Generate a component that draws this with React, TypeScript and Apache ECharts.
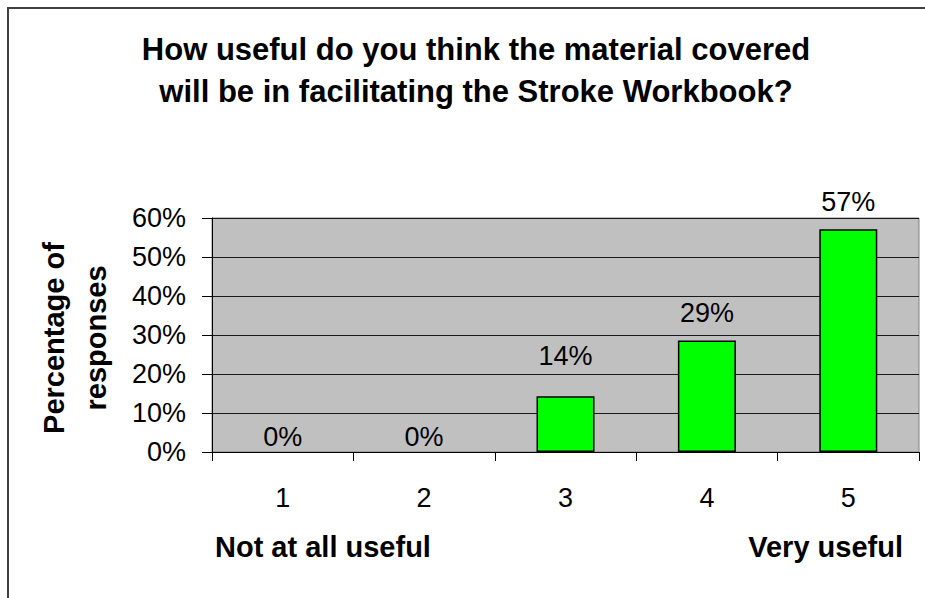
import React, { useEffect, useRef } from "react";
import * as echarts from "echarts";

const titleLines = [
  "How useful do you think the material covered",
  "will be in facilitating the Stroke Workbook?",
];
const categories = ["1", "2", "3", "4", "5"];
const values = [0, 0, 14.29, 28.57, 57.14];
const yTicks = [0, 10, 20, 30, 40, 50, 60];
const yAxisName = ["Percentage of", "responses"];
const lowLabel = "Not at all useful";
const highLabel = "Very useful";

const FONT = "'Liberation Sans', Arial, sans-serif";

export default function App() {
  const ref = useRef<HTMLDivElement>(null);
  useEffect(() => {
    if (!ref.current) return;
    const chart = echarts.init(ref.current, null, { renderer: "svg" });
    const labelGaps = [2, 2, 27, 14, 14];
    chart.setOption({
      animation: false,
      backgroundColor: "#ffffff",
      title: {
        text: titleLines.join("\n"),
        left: 476,
        top: 28,
        padding: 0,
        textAlign: "center",
        textStyle: {
          fontFamily: FONT,
          fontSize: 31,
          fontWeight: "bold",
          color: "#000000",
          lineHeight: 42,
        },
      },
      grid: {
        left: 212,
        top: 218,
        right: 6,
        bottom: 146,
        show: true,
        backgroundColor: "#C0C0C0",
        borderColor: "#808080",
        borderWidth: 1,
        containLabel: false,
      },
      xAxis: {
        type: "category",
        data: categories,
        boundaryGap: true,
        axisLine: { show: true, lineStyle: { color: "#000000", width: 1 } },
        axisTick: { show: true, length: 9, interval: 0, lineStyle: { color: "#000000" } },
        axisLabel: {
          margin: 32,
          fontFamily: FONT,
          fontSize: 27,
          color: "#000000",
          interval: 0,
        },
        splitLine: { show: false },
      },
      yAxis: {
        type: "value",
        min: yTicks[0],
        max: yTicks[yTicks.length - 1],
        interval: yTicks[1] - yTicks[0],
        axisLine: { show: true, lineStyle: { color: "#000000", width: 1 } },
        axisTick: { show: true, length: 10, lineStyle: { color: "#000000" } },
        axisLabel: {
          margin: 26,
          formatter: "{value}%",
          fontFamily: FONT,
          fontSize: 27,
          color: "#000000",
        },
        splitLine: { show: true, lineStyle: { color: "#1a1a1a", width: 1 } },
      },
      series: [
        {
          type: "bar",
          barWidth: 58,
          data: values.map((v, i) => ({
            value: v,
            label: { distance: labelGaps[i] },
            itemStyle: v === 0 ? { borderWidth: 0 } : undefined,
          })),
          itemStyle: { color: "#00FF00", borderColor: "#000000", borderWidth: 1.5 },
          label: {
            show: true,
            position: "top",
            formatter: (p: any) => `${Math.round(p.value)}%`,
            fontFamily: FONT,
            fontSize: 27,
            color: "#000000",
          },
        },
      ],
      graphic: [
        {
          type: "rect",
          shape: { x: 8, y: 8, width: 1000, height: 1000 },
          style: { fill: "none", stroke: "#404040", lineWidth: 2 },
          silent: true,
          z: 100,
        },
        {
          type: "text",
          x: 75,
          y: 338,
          rotation: Math.PI / 2,
          style: {
            text: yAxisName.join("\n"),
            fontFamily: FONT,
            fontSize: 29,
            fontWeight: "bold",
            fill: "#000000",
            align: "center",
            verticalAlign: "middle",
            lineHeight: 42,
          },
        },
        {
          type: "text",
          x: 215,
          y: 547,
          style: {
            text: lowLabel,
            fontFamily: FONT,
            fontSize: 29,
            fontWeight: "bold",
            fill: "#000000",
            align: "left",
            verticalAlign: "middle",
          },
        },
        {
          type: "text",
          x: 903,
          y: 547,
          style: {
            text: highLabel,
            fontFamily: FONT,
            fontSize: 29,
            fontWeight: "bold",
            fill: "#000000",
            align: "right",
            verticalAlign: "middle",
          },
        },
      ],
    });
    return () => chart.dispose();
  }, []);
  return (
    <div
      ref={ref}
      style={{ position: "absolute", left: 0, top: 0, width: 925, height: 598, background: "#fff" }}
    />
  );
}
